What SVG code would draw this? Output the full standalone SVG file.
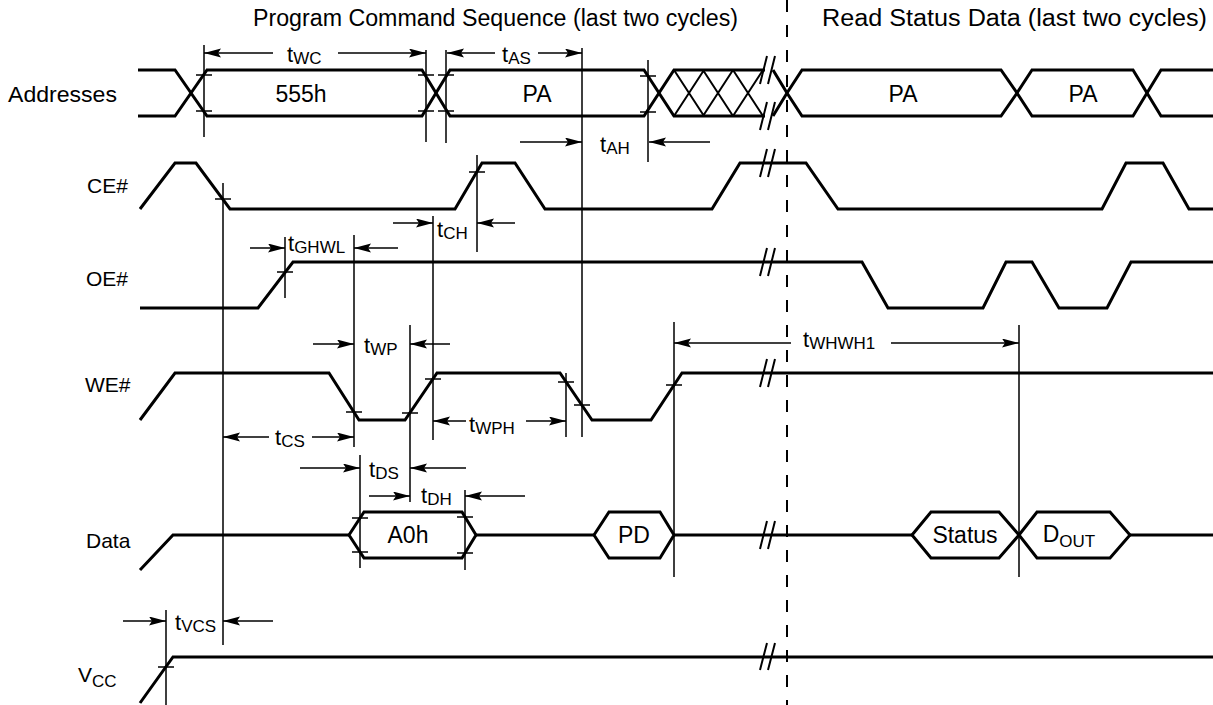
<svg xmlns="http://www.w3.org/2000/svg" width="1213" height="705" viewBox="0 0 1213 705">
<defs>
<marker id="ah" markerUnits="userSpaceOnUse" markerWidth="18" markerHeight="10" refX="17" refY="4.5" orient="auto">
<path d="M0,0 L17,4.5 L0,9 L3,4.5 Z" fill="#000"/>
</marker>
</defs>
<style>
.sig{fill:none;stroke:#000;stroke-width:3;stroke-linejoin:miter}
.hat{fill:none;stroke:#000;stroke-width:2}
.v{fill:none;stroke:#000;stroke-width:1.5}
.tk{fill:none;stroke:#000;stroke-width:1.5}
.arr{fill:none;stroke:#000;stroke-width:1.5;marker-end:url(#ah)}
.brk{fill:none;stroke:#000;stroke-width:2}
text{font-family:"Liberation Sans",Arial,Helvetica,sans-serif;fill:#000}
.lbl{font-size:22px}
.rl{font-size:21px}
.ttl{font-size:23px}
.box{font-size:23px;text-anchor:middle}
.tt{font-size:22px}
.sub{font-size:17px}
</style>
<rect width="1213" height="705" fill="#fff"/>

<g id="titles">
<text class="ttl" x="253" y="26" textLength="485" lengthAdjust="spacingAndGlyphs">Program Command Sequence (last two cycles)</text>
<text class="ttl" x="822" y="26" textLength="385" lengthAdjust="spacingAndGlyphs">Read Status Data (last two cycles)</text>
</g>

<line id="divider" x1="787" y1="0" x2="787" y2="705" stroke="#000" stroke-width="2" stroke-dasharray="12 13"/>

<g id="addresses">
<text class="lbl" x="8" y="102" textLength="109" lengthAdjust="spacingAndGlyphs">Addresses</text>
<path class="sig" d="M138,70 H175 L191,93 L175,116 H138"/>
<path class="sig" d="M191,93 L207,70 H422 L436,93 L422,116 H207 Z"/>
<path class="sig" d="M436,93 L450,70 H644 L659,93 L644,116 H450 Z"/>
<path class="sig" d="M765,70 H674 L659,93 L674,116 H765"/>
<path class="hat" d="M674,70 L704,116 M703,70 L733,116 M733,70 L763,116 M674,116 L704,70 M703,116 L733,70 M733,116 L763,70"/>
<path class="sig" d="M773,70 L787,93 L773,116"/>
<path class="sig" d="M787,93 L802,70 H1001 L1017,93 L1001,116 H802 Z"/>
<path class="sig" d="M1017,93 L1032,70 H1133 L1147,93 L1133,116 H1032 Z"/>
<path class="sig" d="M1213,70 H1161 L1147,93 L1161,116 H1213"/>
<path class="brk" d="M760,84 L767,56 M768,84 L775,56 M760,130 L767,102 M768,130 L775,102"/>
<text class="box" x="301" y="102">555h</text>
<text class="box" x="537" y="102">PA</text>
<text class="box" x="903" y="102">PA</text>
<text class="box" x="1083" y="102">PA</text>
</g>

<g id="ce">
<text class="rl" x="87" y="193">CE#</text>
<path class="sig" d="M140,209 L175,163 H196 L230,209 H455 L482,163 H515 L545,209 H712 L740,163 H806 L838,209 H1102 L1126,163 H1163 L1189,209 H1213"/>
<path class="brk" d="M760,177 L767,149 M768,177 L775,149"/>
</g>

<g id="oe">
<text class="rl" x="86" y="286">OE#</text>
<path class="sig" d="M140,308 H258 L293,262 H862 L888,308 H983 L1006,262 H1032 L1059,308 H1107 L1131,262 H1213"/>
<path class="brk" d="M760,276 L767,248 M768,276 L775,248"/>
</g>

<g id="we">
<text class="rl" x="85" y="392">WE#</text>
<path class="sig" d="M140,420 L175,373 H329 L359,420 H405 L437,373 H560 L592,420 H651 L682,373 H1213"/>
<path class="brk" d="M760,387 L767,359 M768,387 L775,359"/>
</g>

<g id="data">
<text class="rl" x="86" y="548">Data</text>
<path class="sig" d="M140,570 L173,535 H349 M476,535 H594 M674,535 H912 M1130,535 H1213"/>
<path class="sig" d="M349,535 L364,512 H462 L476,535 L462,558 H364 Z"/>
<path class="sig" d="M594,535 L609,512 H660 L674,535 L660,558 H609 Z"/>
<path class="sig" d="M912,535 L931,512 H999 L1019,535 L999,558 H931 Z"/>
<path class="sig" d="M1019,535 L1037,512 H1110 L1130,535 L1110,558 H1037 Z"/>
<path class="brk" d="M760,549 L767,521 M768,549 L775,521"/>
<text class="box" x="408" y="543">A0h</text>
<text class="box" x="634" y="543">PD</text>
<text class="box" x="965" y="543">Status</text>
<text class="box" x="1069" y="542">D<tspan class="sub" dy="5">OUT</tspan></text>
</g>

<g id="vcc">
<text x="78" y="682" style="font-size:21px">V<tspan class="sub" dy="5">CC</tspan></text>
<path class="sig" d="M140,703 L173,657 H1213"/>
<path class="brk" d="M760,670 L767,643 M768,670 L775,643"/>
</g>

<g id="connectors">
<path class="v" d="M204,45 V137 M426,50 V142 M446,50 V143 M582,48 V437 M648,60 V162 M223,183 V645 M477,155 V252 M285,237 V298 M354,235 V447 M433,216 V440 M410,325 V502 M360,455 V568 M465,490 V570 M566,373 V437 M674,322 V577 M1019,325 V577 M166,610 V705"/>
<path class="tk" d="M196,75 H212 M196,111 H212 M418,75 H434 M418,111 H434 M438,75 H454 M438,111 H454 M640,76 H656 M640,112 H656 M215,199 H231 M469,172 H485 M277,272 H293 M346,412 H362 M402,413 H418 M425,379 H441 M558,382 H574 M574,405 H590 M666,385 H682 M352,518 H368 M352,552 H368 M457,517 H473 M457,553 H473 M158,667 H174"/>
<path class="arr" d="M273,53 H204"/>
<path class="arr" d="M338,53 H426"/>
<path class="arr" d="M495,53 H447"/>
<path class="arr" d="M538,53 H582"/>
<path class="arr" d="M520,142 H582"/>
<path class="arr" d="M710,142 H649"/>
<path class="arr" d="M393,223 H433"/>
<path class="arr" d="M515,223 H477"/>
<path class="arr" d="M250,248 H285"/>
<path class="arr" d="M398,248 H354"/>
<path class="arr" d="M313,344 H354"/>
<path class="arr" d="M450,344 H410"/>
<path class="arr" d="M269,437 H223"/>
<path class="arr" d="M312,437 H354"/>
<path class="arr" d="M466,421 H433"/>
<path class="arr" d="M526,421 H566"/>
<path class="arr" d="M300,468 H360"/>
<path class="arr" d="M466,468 H410"/>
<path class="arr" d="M369,496 H410"/>
<path class="arr" d="M525,496 H465"/>
<path class="arr" d="M123,621 H166"/>
<path class="arr" d="M273,621 H223"/>
<path class="arr" d="M791,343 H674"/>
<path class="arr" d="M891,343 H1019"/>
</g>

<g id="timing-labels">
<text class="tt" x="287" y="62">t<tspan class="sub" dy="2">WC</tspan></text>
<text class="tt" x="502" y="62">t<tspan class="sub" dy="2">AS</tspan></text>
<text class="tt" x="600" y="152">t<tspan class="sub" dy="2">AH</tspan></text>
<text class="tt" x="437" y="237">t<tspan class="sub" dy="2">CH</tspan></text>
<text class="tt" x="288" y="251">t<tspan class="sub" dy="2">GHWL</tspan></text>
<text class="tt" x="364" y="353">t<tspan class="sub" dy="2">WP</tspan></text>
<text class="tt" x="275" y="445">t<tspan class="sub" dy="2">CS</tspan></text>
<text class="tt" x="469" y="432">t<tspan class="sub" dy="2">WPH</tspan></text>
<text class="tt" x="369" y="477">t<tspan class="sub" dy="2">DS</tspan></text>
<text class="tt" x="421" y="503">t<tspan class="sub" dy="2">DH</tspan></text>
<text class="tt" x="175" y="630">t<tspan class="sub" dy="2">VCS</tspan></text>
<text class="tt" x="803" y="347">t<tspan class="sub" dy="2">WHWH1</tspan></text>
</g>
</svg>
